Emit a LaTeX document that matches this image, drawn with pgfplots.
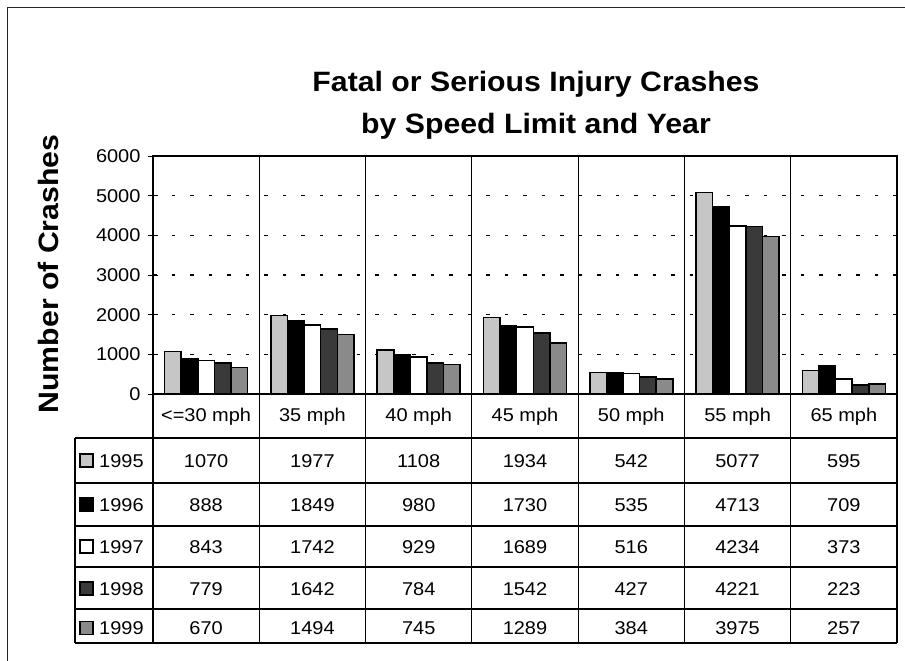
\documentclass[border=0pt]{standalone}
\usepackage{fontspec}
\setmainfont{Liberation Sans}[FakeStretch=1.08]
\usepackage{pgfplots}
\usepackage{pgfplotstable}
\pgfplotsset{compat=1.18}
\definecolor{c95}{HTML}{C6C6C6}
\definecolor{c96}{HTML}{000000}
\definecolor{c97}{HTML}{FFFFFF}
\definecolor{c98}{HTML}{3A3A3A}
\definecolor{c99}{HTML}{8A8A8A}

\pgfplotstableread{
x label y1995 y1996 y1997 y1998 y1999
0 {<=30 mph} 1070 888 843 779 670
1 {35 mph} 1977 1849 1742 1642 1494
2 {40 mph} 1108 980 929 784 745
3 {45 mph} 1934 1730 1689 1542 1289
4 {50 mph} 542 535 516 427 384
5 {55 mph} 5077 4713 4234 4221 3975
6 {65 mph} 595 709 373 223 257
}\crashdata

\begin{document}
\begin{tikzpicture}
\path[use as bounding box] (0,0) rectangle (905pt,-661pt);
\draw[line width=0.8pt, black!85] (7pt,-661pt) -- (7pt,-7pt) -- (905pt,-7pt);
\begin{axis}[
  at={(153pt,-394pt)}, anchor=south west,
  scale only axis, width=744pt, height=238pt,
  xmin=-0.5, xmax=6.5, ymin=0, ymax=6000,
  ybar=0pt, bar width=16.6pt,
  xtick=\empty,
  ytick={0,1000,...,6000},
  ytick pos=left,
  major tick length=10pt, tick align=center,
  ytick style={black, line width=1pt},
  ymajorgrids,
  grid style={black, line width=1.3pt, dash pattern=on 3.5pt off 15pt},
  axis line style={black, line width=1.1pt},
  /pgf/number format/1000 sep={},
  /pgf/number format/assume math mode=true,
  yticklabel style={font=\fontsize{18.5}{20}\selectfont, anchor=east, xshift=-4pt},
  every axis plot/.append style={draw=black, line width=1.5pt},
]
\addplot[fill=c95] table[x=x, y=y1995]{\crashdata};
\addplot[fill=c96] table[x=x, y=y1996]{\crashdata};
\addplot[fill=c97] table[x=x, y=y1997]{\crashdata};
\addplot[fill=c98] table[x=x, y=y1998]{\crashdata};
\addplot[fill=c99] table[x=x, y=y1999]{\crashdata};
\end{axis}
\begin{scope}[x=1pt, y=-1pt]
  % title and y label
  \node[font=\fontsize{28}{34}\selectfont\bfseries, anchor=base] at (536,92) {Fatal or Serious Injury Crashes};
  \node[font=\fontsize{28}{34}\selectfont\bfseries, anchor=base] at (536,133) {by Speed Limit and Year};
  \node[font=\fontsize{28}{32}\selectfont\bfseries, anchor=base, rotate=90] at (58,274) {Number of Crashes};
  % table frame
  \foreach \yy in {438,483,526,567,609,643}
    \draw[line width=1.1pt] (75,\yy) -- (897,\yy);
  \draw[line width=1.1pt] (75,438) -- (75,643);
  \foreach \k in {1,...,6}
    \draw[line width=1.1pt] ({153+\k*106.2857},156) -- ({153+\k*106.2857},643);
  \draw[line width=1.1pt] (153,394) -- (153,643);
  \draw[line width=1.1pt] (897,394) -- (897,643);
  % category labels
  \foreach \i in {0,...,6}{
    \pgfplotstablegetelem{\i}{label}\of\crashdata
    \node[font=\fontsize{18.5}{20}\selectfont, anchor=base, inner sep=0pt] at ({153+(\i+0.5)*106.2857},421) {\pgfplotsretval};
  }
  % rows
  \foreach \c/\yr/\cy in {c95/1995/460.5, c96/1996/504.5, c97/1997/546.5, c98/1998/588.5, c99/1999/628}{
    \draw[line width=1.1pt, fill=\c] (80,\cy-6.5) rectangle (93,\cy+6.5);
    \node[font=\fontsize{18.5}{20}\selectfont, anchor=base west, inner sep=0pt] at (99,\cy+6.6) {\yr};
    \foreach \i in {0,...,6}{
      \pgfplotstablegetelem{\i}{y\yr}\of\crashdata
      \node[font=\fontsize{18.5}{20}\selectfont, anchor=base, inner sep=0pt] at ({153+(\i+0.5)*106.2857},\cy+6.6) {\pgfplotsretval};
    }
  }
\end{scope}
\end{tikzpicture}
\end{document}
